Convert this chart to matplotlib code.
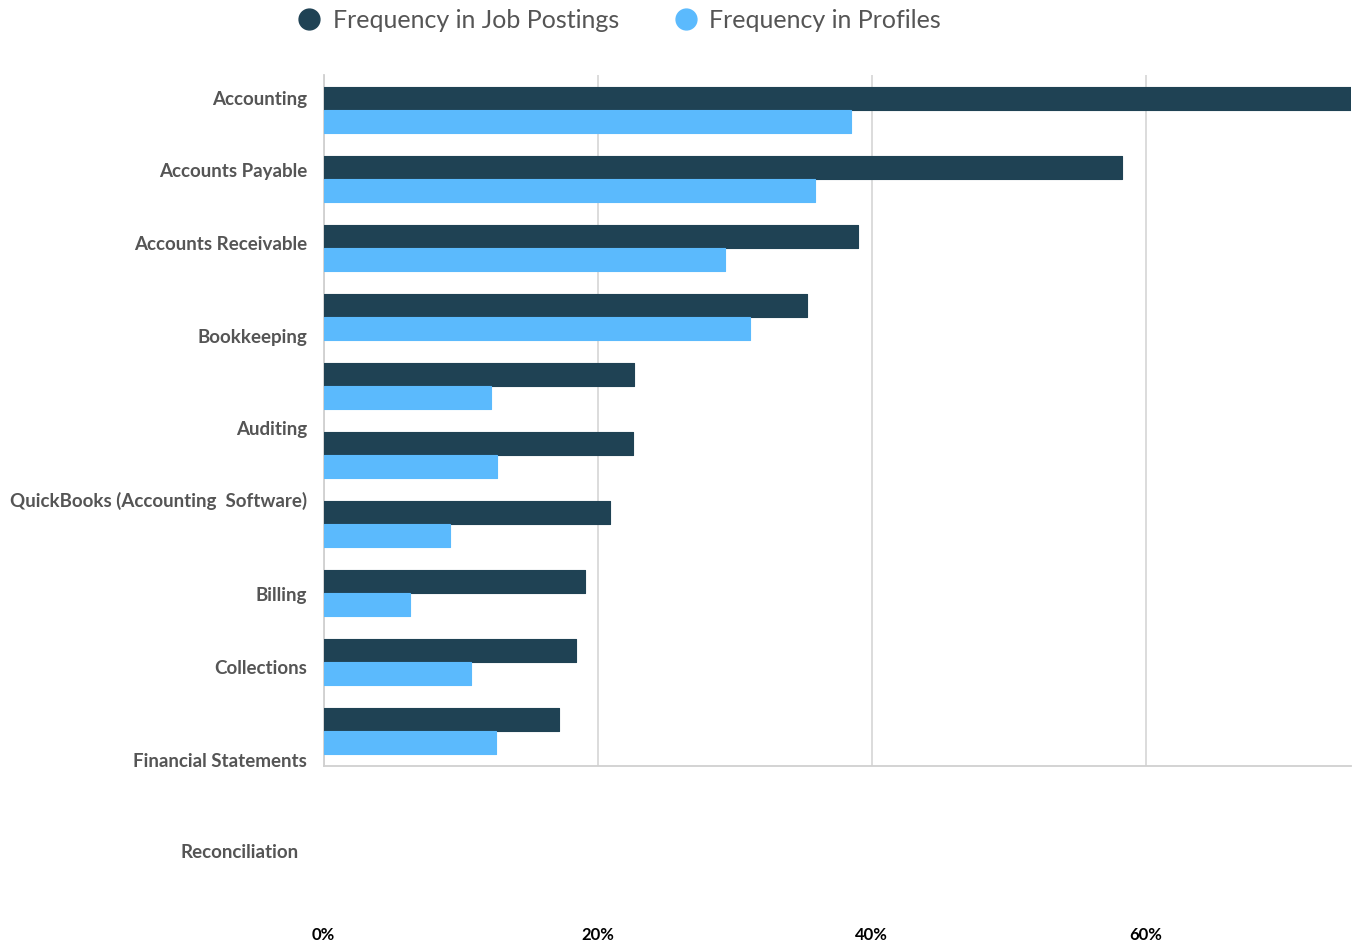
import matplotlib
matplotlib.use("Agg")
import matplotlib.pyplot as plt
from matplotlib.lines import Line2D
import numpy as np

# ---- data ----
categories = ["Accounting", "Accounts Payable", "Accounts Receivable", "Bookkeeping",
              "Auditing", "QuickBooks (Accounting  Software)", "Billing", "Collections",
              "Financial Statements", "Reconciliation"]
job_postings = [75.0, 58.3, 39.0, 35.3, 22.7, 22.6, 20.9, 19.1, 18.4, 17.2]
profiles = [38.5, 35.9, 29.3, 31.1, 12.2, 12.7, 9.2, 6.3, 10.8, 12.6]
x_ticks = [0, 20, 40, 60]
x_tick_labels = ["0%", "20%", "40%", "60%"]
series_names = ["Frequency in Job Postings", "Frequency in Profiles"]

# ---- style ----
DARK = "#1f4254"
LIGHT = "#5bbafd"
TXT = "#555555"
GRID = "#d9d9d9"
W, H = 1365, 947

# label layout (pixel positions in the reference image, right edge x / center y)
label_right = [307, 307, 307, 307, 307, 307, 307, 307, 307, 299]
label_y = [99, 172, 244, 338, 429, 501, 595, 668, 761, 852]

plt.rcParams['font.family'] = ['Lato', 'DejaVu Sans']

fig = plt.figure(figsize=(W / 100, H / 100), dpi=100)
ax_left, ax_right, ax_top, ax_bottom = 323.5, 1351, 75, 766
ax = fig.add_axes([ax_left / W, 1 - ax_bottom / H, (ax_right - ax_left) / W, (ax_bottom - ax_top) / H])

n = len(categories)
y = np.arange(n)
h = 1 / 3
ax.barh(y - h / 2, job_postings, height=h, color=DARK, edgecolor=DARK, linewidth=0.8,
        joinstyle='round', zorder=3)
ax.barh(y + h / 2, profiles, height=h, color=LIGHT, edgecolor=LIGHT, linewidth=0.8,
        joinstyle='round', zorder=3)

ax.set_xlim(0, 75)
ax.set_ylim(n - 0.5, -0.5)
ax.set_yticks([])
ax.set_xticks(x_ticks)
ax.set_xticklabels(x_tick_labels, fontsize=12, fontweight='bold', color='#000000')
ax.tick_params(axis='x', length=0, pad=116)
ax.grid(axis='x', color=GRID, linewidth=1.3, zorder=0)
for s in ['top', 'right']:
    ax.spines[s].set_visible(False)
for s in ['left', 'bottom']:
    ax.spines[s].set_color("#d0d0d0")
    ax.spines[s].set_linewidth(1.3)

for lab, xr, yc in zip(categories, label_right, label_y):
    fig.text(xr / W, 1 - yc / H, lab, ha='right', va='center', fontsize=13.5,
             fontweight='bold', color=TXT)

handles = [Line2D([], [], marker='o', linestyle='none', markersize=15, color=DARK),
           Line2D([], [], marker='o', linestyle='none', markersize=15, color=LIGHT)]
fig.legend(handles, series_names, loc='center', bbox_to_anchor=(619 / W, 1 - 20 / H),
           ncol=2, frameon=False, fontsize=18, labelcolor=TXT, handletextpad=0.45,
           columnspacing=2.15, handlelength=1.0)

fig.savefig("out.png", dpi=100)
